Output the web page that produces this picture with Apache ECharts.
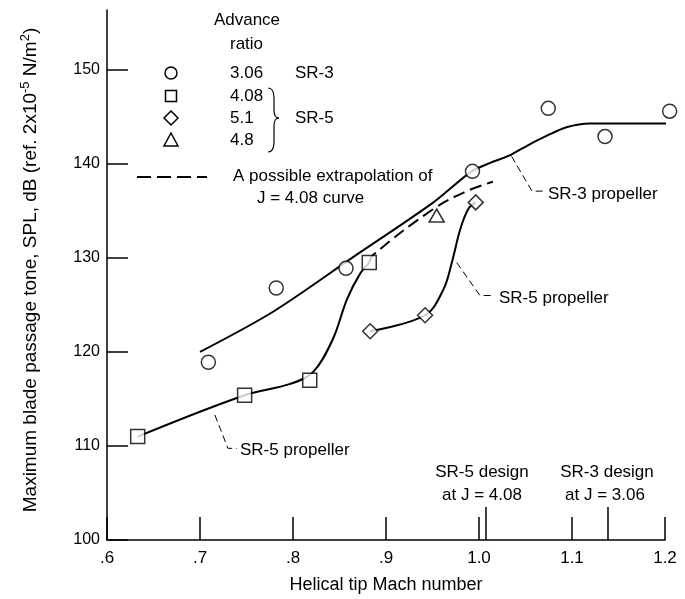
<!DOCTYPE html>
<html>
<head>
<meta charset="utf-8">
<script src="https://cdn.jsdelivr.net/npm/echarts@6/dist/echarts.min.js"></script>
<style>html,body{margin:0;padding:0;background:#fff}#c{width:685px;height:599px}</style>
</head>
<body>
<div id="c"></div>
<script>
// ---- data ----
var sr3Points = [[0.709,118.9],[0.782,126.8],[0.857,128.9],[0.993,139.2],[1.0745,145.9],[1.1355,142.9],[1.205,145.6]];
var sr5J408Points = [[0.633,111.0],[0.748,115.4],[0.818,117.0],[0.882,129.5]];
var sr5J51Points = [[0.883,122.2],[0.942,123.9],[0.9965,135.9]];
var sr5J48Points = [[0.9545,134.5]];
var sr3Curve = [[0.700,120.0],[0.779,124.3],[0.865,130.1],[0.951,135.9],[0.992,139.2],[1.012,140.1],[1.033,140.9],[1.053,142.0],[1.073,143.0],[1.094,143.9],[1.119,144.3],[1.205,144.3]];
var sr5Curve = [[0.633,111.0],[0.748,115.4],[0.797,116.6],[0.822,117.9],[0.843,121.4],[0.858,125.6],[0.872,128.3],[0.882,129.5]];
var sr5J51Curve = [[0.883,122.2],[0.942,123.9],[0.962,126.7],[0.971,129.6],[0.980,133.1],[0.9885,135.2],[0.9965,135.9]];
var extrapolation = [[0.882,129.5],[0.886,130.3],[0.951,135.2],[0.987,137.1],[1.015,138.1]];
var leaderSR3 = [[1.035,140.8],[1.057,137.1],[1.071,137.1]];
var leaderSR5a = [[0.976,129.5],[1.001,126.0],[1.015,126.0]];
var leaderSR5b = [[0.716,113.3],[0.730,109.75],[0.7395,109.75]];
var designSR5 = [[1.0075,100],[1.0075,103.5]];
var designSR3 = [[1.1387,100],[1.1387,103.5]];
var xTickLabels = {'0.6':'.6','0.7':'.7','0.8':'.8','0.9':'.9','1':'1.0','1.1':'1.1','1.2':'1.2'};
var yTickValues = [100,110,120,130,140,150];

var FONT = 'Liberation Sans';
var chart = echarts.init(document.getElementById('c'), null, {renderer:'canvas'});

function tx(text, x, y, align, size){
  return {type:'text', x:x, y:y, z:100, style:{text:text, fill:'#000', fontFamily:FONT, fontSize:size||17, align:align||'left', verticalAlign:'middle'}};
}
var symStyle = {color:'#fff', borderColor:'#000', borderWidth:1.5};
function scatter(data, symbol, size){
  return {type:'scatter', data:data, symbol:symbol, symbolSize:size, itemStyle:symStyle, z:10, clip:false, silent:true};
}
function curve(data, opts){
  return Object.assign({type:'line', data:data, showSymbol:false, symbol:'none', clip:false, silent:true, z:5,
    lineStyle:{color:'#000', width:2}}, opts||{});
}
function bz(x1,y1,cx,cy,x2,y2){
  return {type:'bezierCurve', z:100, shape:{x1:x1,y1:y1,cpx1:cx,cpy1:cy,x2:x2,y2:y2}, style:{fill:null, stroke:'#000', lineWidth:1.2}};
}
function ln(x1,y1,x2,y2,w,dash){
  var s = {stroke:'#000', lineWidth:w||1.2};
  if (dash) s.lineDash = dash;
  return {type:'line', z:100, shape:{x1:x1,y1:y1,x2:x2,y2:y2}, style:s};
}

var option = {
  animation:false,
  backgroundColor:'#fff',
  grid:{left:107, right:20, top:10, bottom:57, containLabel:false},
  xAxis:{type:'value', min:0.6, max:1.2, interval:0.1,
    axisLine:{lineStyle:{color:'#000', width:1.5}},
    axisTick:{inside:true, length:23, lineStyle:{color:'#000', width:1.5}},
    axisLabel:{color:'#000', fontFamily:FONT, fontSize:17, margin:10,
      formatter:function(v){ var k = String(Math.round(v*10)/10); return xTickLabels[k]!==undefined?xTickLabels[k]:''; }},
    splitLine:{show:false},
    name:'Helical tip Mach number', nameLocation:'middle', nameGap:36,
    nameTextStyle:{color:'#000', fontFamily:FONT, fontSize:18}
  },
  yAxis:{type:'value', min:100, max:156.36, interval:10,
    axisLine:{show:true, lineStyle:{color:'#000', width:1.5}},
    axisTick:{inside:true, length:21, lineStyle:{color:'#000', width:1.5}, customValues:yTickValues},
    axisLabel:{color:'#000', fontFamily:FONT, fontSize:16, margin:7, customValues:yTickValues},
    splitLine:{show:false},
    name:'Maximum blade passage tone, SPL, dB (ref. 2x10{sup|-5} N/m{sup|2})',
    nameLocation:'middle', nameRotate:90, nameGap:64,
    nameTextStyle:{color:'#000', fontFamily:FONT, fontSize:19, padding:[0,0,0,10],
      rich:{sup:{fontFamily:FONT, fontSize:13, color:'#000', padding:[0,0,11,0]}}}
  },
  series:[
    curve(sr3Curve, {smooth:0.3}),
    curve(sr5Curve, {smooth:0.35}),
    curve(sr5J51Curve, {smooth:0.35}),
    curve(extrapolation, {smooth:0.4, lineStyle:{color:'#000', width:2, type:[12,6]}}),
    curve(leaderSR3, {lineStyle:{color:'#000', width:1, type:[7,4]}}),
    curve(leaderSR5a, {lineStyle:{color:'#000', width:1, type:[7,4]}}),
    curve(leaderSR5b, {lineStyle:{color:'#000', width:1, type:[7,4]}}),
    curve(designSR5, {lineStyle:{color:'#000', width:1.5}}),
    curve(designSR3, {lineStyle:{color:'#000', width:1.5}}),
    scatter(sr3Points, 'circle', 14),
    scatter(sr5J408Points, 'rect', 14),
    scatter(sr5J51Points, 'diamond', [15,15]),
    scatter(sr5J48Points, 'triangle', [15,13])
  ],
  graphic:[
    tx('Advance', 247, 20, 'center'),
    tx('ratio', 230, 44, 'left'),
    {type:'circle', shape:{cx:171, cy:73, r:6}, style:{fill:'#fff', stroke:'#000', lineWidth:1.5}, z:100},
    {type:'rect', shape:{x:165.5, y:90.5, width:11, height:11}, style:{fill:'#fff', stroke:'#000', lineWidth:1.5}, z:100},
    {type:'polygon', shape:{points:[[171,111],[178,118],[171,125],[164,118]]}, style:{fill:'#fff', stroke:'#000', lineWidth:1.5}, z:100},
    {type:'polygon', shape:{points:[[171,133],[178,146],[164,146]]}, style:{fill:'#fff', stroke:'#000', lineWidth:1.5}, z:100},
    tx('3.06', 230, 73), tx('SR-3', 295, 73),
    tx('4.08', 230, 96),
    tx('5.1', 230, 118), tx('SR-5', 295, 118),
    tx('4.8', 230, 140),
    bz(268,88,274,88,274,98), ln(274,98,274,110),
    bz(274,110,274,118,279,118), bz(279,118,274,118,274,126),
    ln(274,126,274,142), bz(274,142,274,152,268,152),
    ln(137,177,207,177,2,[14,6]),
    tx('A possible extrapolation of', 233, 176),
    tx('J = 4.08 curve', 257, 198),
    tx('SR-3 propeller', 548, 194),
    tx('SR-5 propeller', 499, 298),
    tx('SR-5 propeller', 240, 450),
    tx('SR-5 design', 482, 472, 'center'),
    tx('at J = 4.08', 482, 495, 'center'),
    tx('SR-3 design', 607, 472, 'center'),
    tx('at J = 3.06', 605, 495, 'center')
  ]
};
chart.setOption(option);
</script>
</body>
</html>
